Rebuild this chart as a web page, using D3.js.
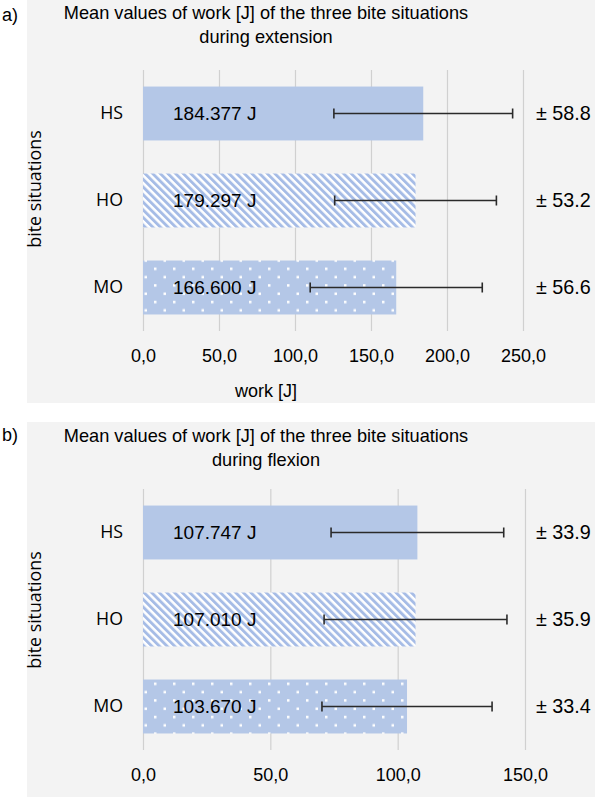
<!DOCTYPE html>
<html>
<head>
<meta charset="utf-8">
<script src="https://cdn.jsdelivr.net/npm/d3@7"></script>
<style>
  html, body { margin: 0; padding: 0; background: #ffffff; }
  svg { display: block; }
  .tick line { stroke: #d0d0d0; stroke-width: 1.2; }
  .x-axis text { font-family: "Liberation Sans", Arial, sans-serif; font-size: 18px; fill: #000; }
  .y-axis text { font-family: "Open Sans", sans-serif; font-size: 17.8px; fill: #000; }
</style>
</head>
<body>
<div id="chart"></div>
<script>
// bite situations, top to bottom
const categories = ["HS", "HO", "MO"];
const fills = ["solid", "stripes", "dots"];

// a) extension
const extMeans = [184.377, 179.297, 166.600];
const extSD = [58.8, 53.2, 56.6];
const extTicks = [0, 50, 100, 150, 200, 250];

// b) flexion
const flexMeans = [107.747, 107.010, 103.670];
const flexSD = [33.9, 35.9, 33.4];
const flexTicks = [0, 50, 100, 150];

const W = 598, H = 801;
const BAR = "#b4c7e7";

const svg = d3.select("#chart").append("svg")
    .attr("width", W)
    .attr("height", H);

// fill patterns
const defs = svg.append("defs");
const stripes = defs.append("pattern")
    .attr("id", "fill-stripes")
    .attr("patternUnits", "userSpaceOnUse")
    .attr("width", 5.4)
    .attr("height", 5.4)
    .attr("patternTransform", "rotate(-45)");
stripes.append("rect").attr("width", 5.4).attr("height", 5.4).attr("fill", "#ffffff");
stripes.append("rect").attr("width", 2.9).attr("height", 5.4).attr("fill", "#a6bce6");

const dots = defs.append("pattern")
    .attr("id", "fill-dots")
    .attr("patternUnits", "userSpaceOnUse")
    .attr("width", 19)
    .attr("height", 16.6);
dots.append("rect").attr("width", 19).attr("height", 16.6).attr("fill", BAR);
dots.append("rect").attr("x", 2).attr("y", 2).attr("width", 2.5).attr("height", 2.5).attr("fill", "#ffffff");
dots.append("rect").attr("x", 11.5).attr("y", 10.3).attr("width", 2.5).attr("height", 2.5).attr("fill", "#ffffff");

function fillFor(kind) {
    if (kind === "stripes") return "url(#fill-stripes)";
    if (kind === "dots") return "url(#fill-dots)";
    return BAR;
}

const tickFmt = d => d3.format(".1f")(d).replace(".", ",");

function drawPanel(p) {
    const g = svg.append("g");

    g.append("rect")
        .attr("x", 27).attr("y", p.bgTop)
        .attr("width", 568).attr("height", p.bgHeight)
        .attr("fill", "#f3f3f3");

    const x = d3.scaleLinear().domain(p.domain).range(p.xRange);
    const y = d3.scaleBand().domain(categories).range(p.yRange)
        .paddingInner(0.38).paddingOuter(0.19);

    // panel letter
    g.append("text")
        .attr("x", 2).attr("y", p.letterY).attr("dy", "0.35em")
        .attr("font-family", "Liberation Sans, Arial, sans-serif")
        .attr("font-size", 18).attr("fill", "#000")
        .text(p.letter);

    // title
    g.selectAll("text.title")
        .data(p.title)
        .enter().append("text")
        .attr("class", "title")
        .attr("x", 266)
        .attr("y", (d, i) => p.titleY + i * 23.5)
        .attr("dy", "0.35em")
        .attr("text-anchor", "middle")
        .attr("font-family", "Liberation Sans, Arial, sans-serif")
        .attr("font-size", 18.2).attr("fill", "#000")
        .text(d => d);

    // gridlines + tick labels
    const xAxis = d3.axisBottom(x)
        .tickValues(p.ticks)
        .tickFormat(tickFmt)
        .tickSizeInner(-(p.yRange[1] - p.yRange[0]))
        .tickSizeOuter(0)
        .tickPadding(18);
    const xg = g.append("g")
        .attr("class", "x-axis")
        .attr("transform", `translate(0,${p.yRange[1]})`)
        .call(xAxis);
    xg.select(".domain").remove();

    // category labels
    const yg = g.append("g")
        .attr("class", "y-axis")
        .attr("transform", `translate(${p.xRange[0]},0)`)
        .call(d3.axisLeft(y).tickSize(0).tickPadding(20));
    yg.select(".domain").remove();

    // y title
    g.append("text")
        .attr("transform", `translate(35,${p.yTitleY}) rotate(-90)`)
        .attr("dy", "0.35em")
        .attr("text-anchor", "middle")
        .attr("font-family", "Open Sans, sans-serif")
        .attr("font-size", 17.8).attr("fill", "#000")
        .text("bite situations");

    const rows = categories.map((c, i) => ({ c, m: p.means[i], sd: p.sd[i], kind: fills[i] }));

    g.selectAll("rect.bar")
        .data(rows)
        .enter().append("rect")
        .attr("class", "bar")
        .attr("x", x(0))
        .attr("y", d => y(d.c))
        .attr("width", d => x(d.m) - x(0))
        .attr("height", y.bandwidth())
        .attr("fill", d => fillFor(d.kind));

    g.selectAll("text.val")
        .data(rows)
        .enter().append("text")
        .attr("class", "val")
        .attr("x", x(0) + 30)
        .attr("y", d => y(d.c) + y.bandwidth() / 2)
        .attr("dy", "0.35em")
        .attr("font-family", "Liberation Sans, Arial, sans-serif")
        .attr("font-size", 19).attr("fill", "#000")
        .text(d => d3.format(".3f")(d.m) + " J");

    // error bars
    const eb = g.selectAll("g.err")
        .data(rows)
        .enter().append("g")
        .attr("class", "err")
        .attr("transform", d => `translate(0,${y(d.c) + y.bandwidth() / 2})`)
        .attr("stroke", "#2a2a2a")
        .attr("stroke-width", 1.6);
    eb.append("line")
        .attr("x1", d => x(d.m - d.sd)).attr("x2", d => x(d.m + d.sd))
        .attr("y1", 0).attr("y2", 0);
    eb.append("line")
        .attr("x1", d => x(d.m - d.sd)).attr("x2", d => x(d.m - d.sd))
        .attr("y1", -5).attr("y2", 5);
    eb.append("line")
        .attr("x1", d => x(d.m + d.sd)).attr("x2", d => x(d.m + d.sd))
        .attr("y1", -5).attr("y2", 5);

    // sd labels
    g.selectAll("text.sd")
        .data(rows)
        .enter().append("text")
        .attr("class", "sd")
        .attr("x", 536)
        .attr("y", d => y(d.c) + y.bandwidth() / 2)
        .attr("dy", "0.35em")
        .attr("font-family", "Liberation Sans, Arial, sans-serif")
        .attr("font-size", 19.8).attr("fill", "#000")
        .text(d => "\u00b1 " + d3.format(".1f")(d.sd));

    if (p.xTitle) {
        g.append("text")
            .attr("x", 266).attr("y", p.xTitleY).attr("dy", "0.35em")
            .attr("text-anchor", "middle")
            .attr("font-family", "Liberation Sans, Arial, sans-serif")
            .attr("font-size", 18).attr("fill", "#000")
            .text(p.xTitle);
    }
}

drawPanel({
    letter: "a)", letterY: 15,
    title: ["Mean values of work [J] of the three bite situations", "during extension"],
    titleY: 13,
    bgTop: 0, bgHeight: 403,
    domain: [0, 250], xRange: [143, 523], yRange: [70, 331],
    ticks: extTicks,
    means: extMeans, sd: extSD,
    yTitleY: 189,
    xTitle: "work [J]", xTitleY: 391
});

drawPanel({
    letter: "b)", letterY: 435,
    title: ["Mean values of work [J] of the three bite situations", "during flexion"],
    titleY: 436,
    bgTop: 422, bgHeight: 375,
    domain: [0, 150], xRange: [143, 525], yRange: [489, 750],
    ticks: flexTicks,
    means: flexMeans, sd: flexSD,
    yTitleY: 610
});
</script>
</body>
</html>
